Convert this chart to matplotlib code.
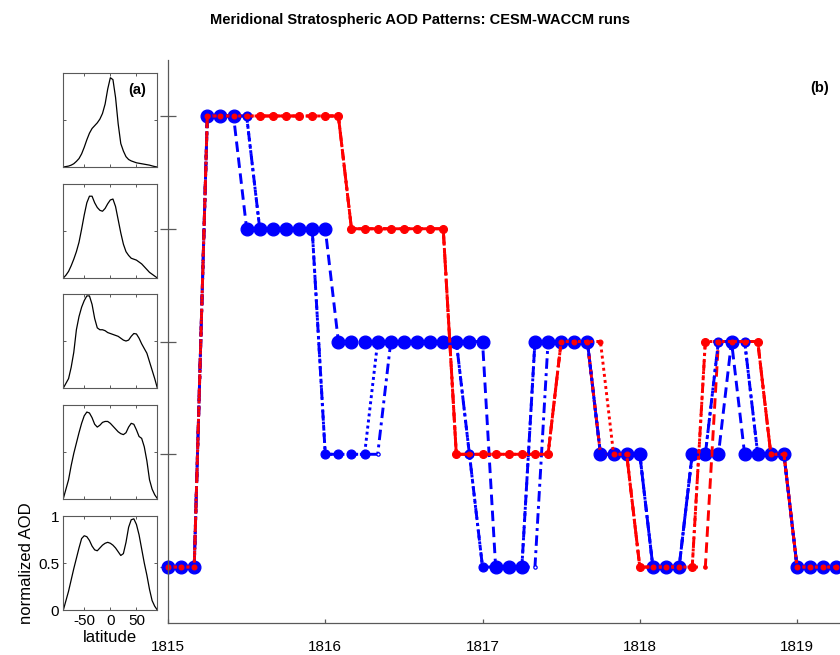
import numpy as np
import matplotlib
matplotlib.use("Agg")
import matplotlib.pyplot as plt

plt.rcParams['font.family'] = ['Liberation Sans', 'DejaVu Sans']

# monthly time axis, Jan 1815 onwards
start_year = 1815
n_months = 52

# pattern index (1..5) of each run, month by month
blue_run1 = [1,1,1, 5,5,5, 4,4,4,4,4,4,4, 3,3,3,3,3,3,3,3,3,3,3,3, 1,1,1, 3,3,3,3,3,
             2,2,2,2, 1,1,1, 2,2,2, 3, 2,2,2,2, 1,1,1,1]
blue_run2 = [1,1,1, 5,5,5,5, 4,4,4,4,4, 2,2,2,2, 3,3,3,3,3,3,3, 2, 1,1,1,1, 3,3,3,3,3,
             2,2,2,2, 1,1,1, 2,2, 3,3,3, 2,2,2, 1,1,1,1]
blue_run3 = [1,1,1, 5,5,5,5, 4,4,4,4,4, 2,2,2,2,2, 3,3,3,3,3,3, 2, 1,1,1,1,1, 3,3,3,3,
             2,2,2,2, 1,1,1, 2,2, 3,3,3, 2,2,2, 1,1,1,1]
red_run1 = [1,1,1, 5,5,5,5,5,5,5,5,5,5,5, 4,4,4,4,4,4,4,4, 2,2,2,2,2,2,2,2, 3,3,3,
            2,2,2, 1,1,1,1,1, 3,3,3,3,3, 2,2, 1,1,1,1]
red_run2 = [1,1,1, 5,5,5,5,5,5,5,5,5,5,5, 4,4,4,4,4,4,4,4, 2,2,2,2,2,2,2,2, 3,3,3,3,
            2,2, 1,1,1,1,1, 3,3,3,3,3, 2,2, 1,1,1,1]
red_run3 = [1,1,1, 5,5,5,5,5,5,5,5,5,5,5, 4,4,4,4,4,4,4,4, 2,2,2,2,2,2,2,2, 3,3,3,
            2,2,2, 1,1,1,1,1,1, 3,3,3,3, 2,2, 1,1,1,1]

# meridional AOD patterns (normalized), read every 5 deg
lat = list(range(-90, 91, 5))
pattern1 = [0, .005, .01, .02, .035, .06, .09, .14, .21, .29, .36, .41, .44, .47, .51, .57, .67, .83, .95,
            .93, .74, .46, .25, .17, .11, .08, .065, .055, .045, .04, .035, .03, .025, .02, .012, .005, 0]
pattern2 = [0, .03, .07, .13, .2, .28, .38, .52, .67, .8, .87, .87, .8, .75, .72, .71, .74, .79, .83,
            .84, .76, .62, .48, .36, .28, .24, .21, .2, .19, .17, .15, .12, .09, .06, .04, .02, 0]
pattern3 = [0, .05, .1, .22, .38, .62, .76, .86, .93, .98, .98, .89, .74, .64, .62, .62, .61, .59, .58,
            .57, .56, .55, .53, .51, .5, .51, .55, .58, .575, .53, .47, .42, .37, .28, .19, .1, 0]
pattern4 = [0, .1, .2, .35, .48, .59, .7, .8, .88, .92, .91, .86, .79, .76, .78, .81, .82, .82, .8,
            .77, .74, .71, .69, .68, .7, .76, .8, .79, .73, .66, .64, .55, .4, .2, .1, .04, 0]
pattern5 = [0, .1, .2, .32, .44, .55, .66, .76, .79, .78, .74, .68, .64, .63, .66, .69, .71, .72, .71,
            .69, .66, .62, .58, .6, .72, .88, .96, .97, .91, .8, .65, .5, .37, .22, .1, .04, 0]
patterns = [pattern1, pattern2, pattern3, pattern4, pattern5]

fig = plt.figure(figsize=(8.4, 6.55), dpi=100)

ax = fig.add_axes([0.2, 0.0482, 0.8, 0.8608])
t = start_year + np.arange(n_months) / 12.0

blue = (0, 0, 1)
red = (1, 0, 0)
dashed = (0, (3.6, 1.9))
dotted = (0, (1, 1.1))
dashdot = (0, (3.6, 1.5, 1, 1.5))
# (values, colour, linestyle, markersize, marker face)
runs = [
    (blue_run1, blue, dashed, 9.2, blue),
    (red_run1, red, dashdot, 5.6, red),
    (blue_run3, blue, dashdot, 2.4, 'white'),
    (red_run3, red, dashed, 2.4, red),
    (blue_run2, blue, dotted, 6.4, blue),
    (red_run2, red, dotted, 3.4, red),
]
for vals, col, ls, ms, mfc in runs:
    ax.plot(t, vals, color=col, linestyle=ls, lw=2.1, marker='o', clip_on=False,
            ms=ms, mfc=mfc, mec=col, mew=0.9)

ax.set_xlim(1815, 1819.273)
ax.set_ylim(0.5, 5.5)
ax.set_xticks([1815, 1816, 1817, 1818, 1819])
ax.set_yticks([1, 2, 3, 4, 5])
ax.set_yticklabels([])
for s in ['top', 'right']:
    ax.spines[s].set_visible(False)
for s in ['left', 'bottom']:
    ax.spines[s].set_color('0.35')
    ax.spines[s].set_linewidth(0.9)
ax.tick_params(axis='y', direction='inout', length=11, width=0.9, color='0.35')
ax.tick_params(axis='x', direction='in', length=3, width=0.9, color='0.35',
               labelsize=11, pad=12)

# small panels with the patterns
bottoms = [0.745, 0.5756, 0.4076, 0.2389, 0.0687]
for i, (prof, b) in enumerate(zip(patterns, bottoms)):
    iax = fig.add_axes([0.0754, b, 0.1119, 0.1435])
    iax.plot(lat, prof, color='k', lw=0.9)
    iax.set_xlim(-90, 90)
    iax.set_ylim(0, 1)
    iax.set_xticks([-50, 0, 50])
    iax.set_yticks([0, 0.5, 1])
    for s in iax.spines.values():
        s.set_color('0.35')
        s.set_linewidth(0.8)
    iax.tick_params(direction='in', length=2.5, width=0.7, color='0.35',
                    top=True, right=True, labelsize=11, pad=3)
    if i < 4:
        iax.set_xticklabels([])
        iax.set_yticklabels([])
    else:
        iax.set_xticklabels(['-50', '0', '50'])
        iax.set_yticklabels(['0', '0.5', '1'])
        iax.set_xlabel('latitude', fontsize=12, labelpad=1)
        iax.set_ylabel('normalized AOD', fontsize=12, labelpad=3)
    if i == 0:
        iax.text(0.79, 0.82, '(a)', transform=iax.transAxes, ha='center',
                 va='center', fontweight='bold', fontsize=10.5)

fig.text(0.976, 0.866, '(b)', ha='center', va='center', fontweight='bold', fontsize=10.5)
fig.text(0.5, 0.969, 'Meridional Stratospheric AOD Patterns: CESM-WACCM runs',
         ha='center', va='center', fontweight='bold', fontsize=10.5)

fig.savefig('out.png', dpi=100)
